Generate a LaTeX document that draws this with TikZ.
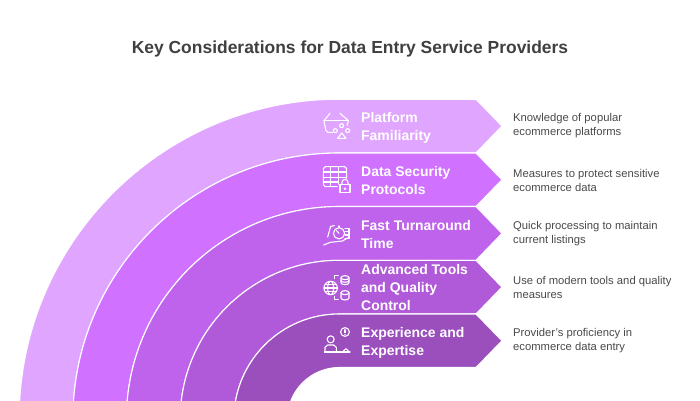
\documentclass[tikz,border=0pt]{standalone}
\usepackage{fontspec}
\setmainfont{Liberation Sans}
\definecolor{bandA}{HTML}{E0A6FF}
\definecolor{bandB}{HTML}{D071FF}
\definecolor{bandC}{HTML}{BF62EC}
\definecolor{bandD}{HTML}{B05AD9}
\definecolor{bandE}{HTML}{9B4FBC}
\definecolor{titleink}{HTML}{404040}
\definecolor{bodyink}{HTML}{4A4A4A}
\tikzset{
  bandshape/.style={draw=white,line width=1.1pt,line join=miter},
  headlabel/.style={anchor=west,align=left,text=white,inner sep=0pt,font=\fontsize{13.95}{18}\selectfont\bfseries},
  bodylabel/.style={anchor=west,align=left,text=bodyink,inner sep=0pt,font=\fontsize{11.25}{14}\selectfont},
  iconline/.style={draw=white,line width=1.1pt,line cap=round,line join=round},
  icondot/.style={fill=white,draw=none},
  iconframe/.style={x=0.33333pt,y=-0.33333pt}
}
% #1 colour, #2 outer radius, #3 inner radius; all bands share one centre (339.4,-19.5), below the page
\newcommand{\bandpath}[3]{%
  \path[bandshape,fill=#1] (339.4-#2,-19.5) arc[start angle=180,end angle=90,radius=#2pt]
    -- (476,#2-19.5) -- (502,{(#2+#3)/2-19.5}) -- (476,#3-19.5) -- (339.4,#3-19.5)
    arc[start angle=90,end angle=180,radius=#3pt] -- cycle;}
\begin{document}
\begin{tikzpicture}[x=1pt,y=1pt]
\useasboundingbox[fill=white] (0,0) rectangle (700,400);
\bandpath{bandA}{320.3}{266.5}
\bandpath{bandB}{266.5}{213}
\bandpath{bandC}{213}{159.2}
\bandpath{bandD}{159.2}{105.5}
\bandpath{bandE}{105.5}{52}

\node[anchor=center,inner sep=0pt,text=titleink,font=\fontsize{17.45}{22}\selectfont\bfseries] (title) at (350,351) {Key Considerations for Data Entry Service Providers};

\node[headlabel] (h1) at (361,272.5) {Platform\\Familiarity};
\node[headlabel] (h2) at (361,219.5) {Data Security\\Protocols};
\node[headlabel] (h3) at (361,165.5) {Fast Turnaround\\Time};
\node[headlabel] (h4) at (361,112) {Advanced Tools\\and Quality\\Control};
\node[headlabel] (h5) at (361,57.5) {Experience and\\Expertise};

\node[bodylabel] (d1) at (513,274) {Knowledge of popular\\ecommerce platforms};
\node[bodylabel] (d2) at (513,220) {Measures to protect sensitive\\ecommerce data};
\node[bodylabel] (d3) at (513,166.5) {Quick processing to maintain\\current listings};
\node[bodylabel] (d4) at (513,112.5) {Use of modern tools and quality\\measures};
\node[bodylabel] (d5) at (513,59) {Provider's proficiency in\\ecommerce data entry};

% basket icon
\begin{scope}[shift={(300,310)},iconframe]
  \draw[iconline] (72,92) -- (145,92);
  \draw[iconline] (72,92) -- (90,70) (145,92) -- (120,70);
  \draw[iconline] (72,94) -- (78,122) -- (84,127) -- (98,127);
  \draw[iconline] (145,94) -- (141,106);
  \draw[iconline] (106,122) circle[radius=2pt];
  \draw[iconline] (125,107) circle[radius=2pt];
  \draw[iconline] (143,122) circle[radius=2pt];
  \draw[iconline] (125,129) -- (113,145) -- (138,145) -- cycle;
\end{scope}
% table and lock icon
\begin{scope}[shift={(300,310)},iconframe]
  \draw[iconline] (112,290) -- (76,290) -- (70,284) -- (70,236) -- (76,230) -- (134,230) -- (140,236) -- (140,265);
  \draw[iconline] (70,246) -- (140,246) (70,262) -- (140,262) (70,276) -- (115,276);
  \draw[iconline] (92,230) -- (92,290) (115,230) -- (115,282);
  \draw[iconline,fill=bandB] (120,284) rectangle (150,308);
  \draw[iconline] (126,284) -- (126,277) arc[start angle=180,end angle=0,radius=3pt] -- (144,284);
  \fill[icondot] (135,296) circle[radius=1.4pt];
\end{scope}
% hand and clock icon
\begin{scope}[shift={(315,185)},iconframe]
  \draw[iconline] (72,55) circle[radius=5.6pt];
  \draw[iconline] (72,55) -- (64,46);
  \draw[iconline] (72,33) -- (72,37);
  \draw[iconline] (26,90) -- (46,82) -- (82,78) -- (100,68);
  \draw[iconline] (38,66) -- (47,34) -- (58,32);
  \draw[iconline] (90,41) -- (102,41) -- (102,70) -- (90,70) (90,50) -- (102,50) (90,60) -- (102,60);
\end{scope}
% globe and databases icon
\begin{scope}[shift={(315,132)},iconframe]
  \draw[iconline] (47,60) circle[radius=6.7pt];
  \draw[iconline] (47,60) ellipse[x radius=3pt,y radius=6.7pt];
  \draw[iconline] (27,60) -- (67,60) (31,49) -- (63,49) (31,71) -- (63,71);
  \draw[iconline] (90,29) ellipse[x radius=4pt,y radius=2pt];
  \draw[iconline] (78,29) -- (78,44) arc[start angle=180,end angle=360,x radius=4pt,y radius=2pt] -- (102,29);
  \draw[iconline] (78,37) arc[start angle=180,end angle=360,x radius=4pt,y radius=2pt];
  \draw[iconline] (90,74) ellipse[x radius=4pt,y radius=2pt];
  \draw[iconline] (78,74) -- (78,90) arc[start angle=180,end angle=360,x radius=4pt,y radius=2pt] -- (102,74);
  \draw[iconline] (70,22) -- (58,22) -- (58,32) (58,85) -- (58,95) -- (70,95);
\end{scope}
% person and info icon
\begin{scope}[shift={(315,78)},iconframe]
  \draw[iconline] (47,52) circle[radius=3.5pt];
  \draw[iconline] (30,86) -- (30,76) -- (38,69) -- (56,69) -- (64,76) -- (64,86);
  \draw[iconline] (28,90) -- (105,90);
  \draw[iconline] (84,88) -- (93,80) -- (101,88);
  \draw[iconline] (90,30) circle[radius=4.4pt];
  \draw[iconline] (90,23) -- (90,32);
  \fill[icondot] (90,38) circle[radius=0.8pt];
\end{scope}
\end{tikzpicture}
\end{document}
